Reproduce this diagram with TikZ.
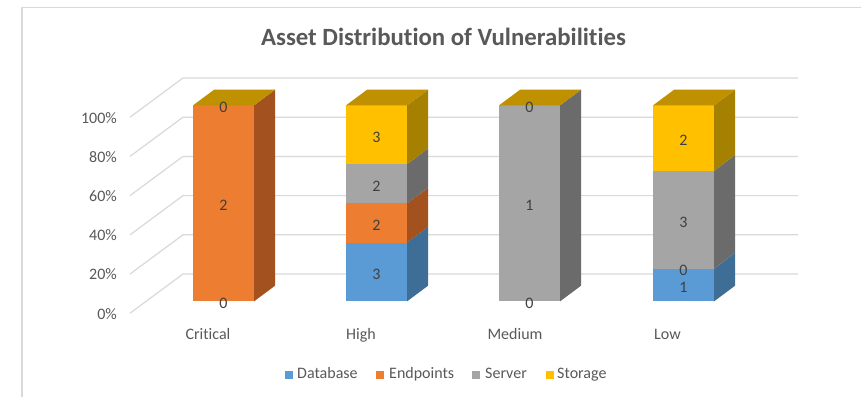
\documentclass[tikz,border=0pt]{standalone}
\usepackage{fontspec}
\setmainfont{Carlito}[Ligatures={NoCommon}]

% series colours: front face / right side / top
\definecolor{dbF}{HTML}{5B9BD5}\definecolor{dbS}{HTML}{3E6D96}
\definecolor{epF}{HTML}{ED7D31}\definecolor{epS}{HTML}{A3521F}
\definecolor{svF}{HTML}{A5A5A5}\definecolor{svS}{HTML}{6B6B6B}
\definecolor{stF}{HTML}{FFC000}\definecolor{stS}{HTML}{A68000}\definecolor{stT}{HTML}{BF9000}
\definecolor{gridc}{HTML}{D9D9D9}
\definecolor{axtext}{HTML}{595959}
\definecolor{valtext}{HTML}{404040}

% one stacked segment of a 3-D column: left x of front face, lower and upper fraction
\newcommand{\barseg}[5]{%
  \fill[#4] (#1,{301.4-196*#2}) rectangle ({#1+61},{301.4-196*#3});
  \fill[#5] ({#1+61},{301.4-196*#2}) -- ++(21,-15.7)
        -- ({#1+82},{285.7-196*#3}) -- ({#1+61},{301.4-196*#3}) -- cycle;
}
% top face of a column
\newcommand{\bartop}[2]{%
  \fill[#2] (#1,105.4) -- ++(61,0) -- ++(21,-15.7) -- ++(-61,0) -- cycle;
}

\begin{document}
\begin{tikzpicture}[x=1pt,y=-1pt,
  grid/.style={draw=gridc,line width=1.2pt},
  axlabel/.style={font=\fontsize{16}{18}\selectfont,text=axtext,inner sep=0pt,
                  text height=11pt,text depth=3pt},
  vallabel/.style={font=\fontsize{16}{18}\selectfont,text=valtext,inner sep=0pt},
  legbox/.style={minimum size=8pt,inner sep=0pt}]

\useasboundingbox (0,0) rectangle (861,397);
\fill[white] (0,0) rectangle (861,397);

% chart frame
\draw[gridc,line width=1.5pt] (22,397) -- (22,7.5) -- (861,7.5);

% title
\node[font=\bfseries\fontsize{24.8}{28}\selectfont,text=axtext] (title) at (443.5,37) {Asset Distribution of Vulnerabilities};

% gridlines on the side wall and back wall
\foreach \i in {0,...,5} {
  \draw[grid] (130,{313.2-39.2*\i}) -- (183,{274-39.2*\i}) -- (798,{274-39.2*\i});
}

% value axis labels
\foreach \i/\t in {0/0\%,1/20\%,2/40\%,3/60\%,4/80\%,5/100\%} {
  \node[axlabel,anchor=east] (y\i) at (117,{315-39.2*\i}) {\t};
}

% Critical: Endpoints only
\barseg{193}{0}{1}{epF}{epS}
\bartop{193}{stT}

% High: Database 3, Endpoints 2, Server 2, Storage 3
\barseg{346}{0}{0.3}{dbF}{dbS}
\barseg{346}{0.3}{0.5}{epF}{epS}
\barseg{346}{0.5}{0.7}{svF}{svS}
\barseg{346}{0.7}{1}{stF}{stS}
\bartop{346}{stT}

% Medium: Server only
\barseg{499}{0}{1}{svF}{svS}
\bartop{499}{stT}

% Low: Database 1, Endpoints 0, Server 3, Storage 2
\barseg{653}{0}{0.16667}{dbF}{dbS}
\barseg{653}{0.16667}{0.66667}{svF}{svS}
\barseg{653}{0.66667}{1}{stF}{stS}
\bartop{653}{stT}

% data labels
\node[vallabel] (c0) at (223.5,303.4) {0};
\node[vallabel] (c2) at (223.5,205.4) {2};
\node[vallabel] (c1) at (223.5,107.4) {0};

\node[vallabel] (h1) at (376.5,274) {3};
\node[vallabel] (h2) at (376.5,225) {2};
\node[vallabel] (h3) at (376.5,186) {2};
\node[vallabel] (h4) at (376.5,137) {3};

\node[vallabel] (m0) at (529.5,303.4) {0};
\node[vallabel] (m1) at (529.5,205.4) {1};
\node[vallabel] (m2) at (529.5,107.4) {0};

\node[vallabel] (l1) at (683.5,287) {1};
\node[vallabel] (l2) at (683.5,270) {0};
\node[vallabel] (l3) at (683.5,222) {3};
\node[vallabel] (l4) at (683.5,140) {2};

% category labels
\node[axlabel] (catA) at (208,335) {Critical};
\node[axlabel] (catB) at (361,335) {High};
\node[axlabel] (catC) at (515,335) {Medium};
\node[axlabel] (catD) at (667.5,335) {Low};

% legend
\node[legbox,fill=dbF] (k1) at (289,374.5) {};
\node[axlabel,anchor=west] (t1) at (297,374) {Database};
\node[legbox,fill=epF] (k2) at (380,374.5) {};
\node[axlabel,anchor=west] (t2) at (389,374) {Endpoints};
\node[legbox,fill=svF] (k3) at (476,374.5) {};
\node[axlabel,anchor=west] (t3) at (485,374) {Server};
\node[legbox,fill=stF] (k4) at (550,374.5) {};
\node[axlabel,anchor=west] (t4) at (557,374) {Storage};

\end{tikzpicture}
\end{document}
